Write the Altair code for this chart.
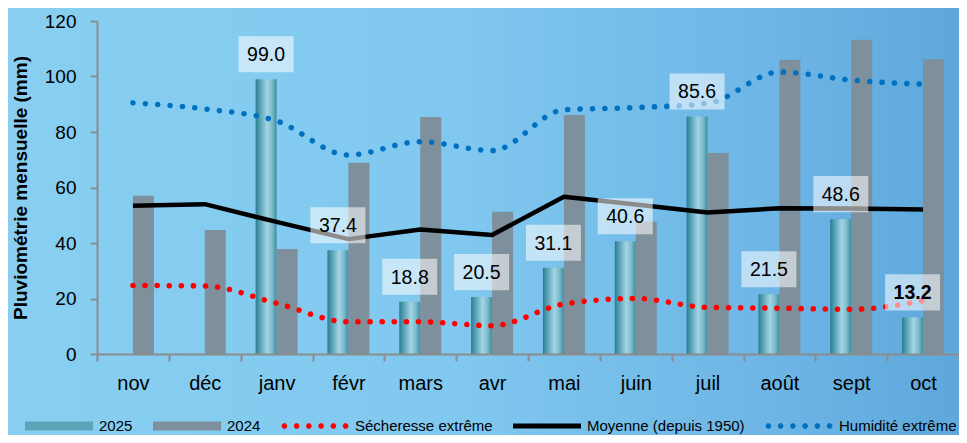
import altair as alt
import pandas as pd
import numpy as np

# ---------------- data ----------------
months = ["nov", "déc", "janv", "févr", "mars", "avr", "mai", "juin", "juil", "août", "sept", "oct"]
pluie_2025 = [None, None, 99.0, 37.4, 18.8, 20.5, 31.1, 40.6, 85.6, 21.5, 48.6, 13.2]
pluie_2024 = [57.0, 44.7, 37.8, 68.9, 85.4, 51.3, 86.1, 47.7, 72.4, 106.0, 113.2, 106.2]
secheresse = [24.7, 24.5, 18.3, 11.6, 11.6, 10.2, 18.0, 20.0, 16.8, 16.5, 16.1, 19.2]
moyenne = [53.4, 54.0, 47.6, 41.4, 44.9, 42.9, 56.7, 53.9, 51.0, 52.5, 52.4, 52.1]
humidite = [90.5, 88.3, 84.0, 71.7, 76.5, 73.3, 88.0, 88.8, 90.3, 101.6, 98.7, 97.2]
series = ["2025", "2024", "Sécheresse extrême", "Moyenne (depuis 1950)", "Humidité extrême"]
y_ticks = [0, 20, 40, 60, 80, 100, 120]

# ---------------- tables ----------------
rows = []
for m, a, b in zip(months, pluie_2025, pluie_2024):
    if a is not None:
        rows.append({"mois": m, "s": "2025", "val": a})
    rows.append({"mois": m, "s": "2024", "val": b})
bars_df = pd.DataFrame(rows)
lab_df = bars_df[bars_df["s"] == "2025"].reset_index(drop=True)

lrows = []
for name, vals in [("Sécheresse extrême", secheresse), ("Moyenne (depuis 1950)", moyenne), ("Humidité extrême", humidite)]:
    for m, v in zip(months, vals):
        lrows.append({"mois": m, "s": name, "val": v})
lines_df = pd.DataFrame(lrows)

# ---------------- styles ----------------
FONT = "Liberation Sans, Arial, sans-serif"
W, H = 862, 333
AX = "#8c8c8c"

bar_grad = {
    "gradient": "linear", "x1": 0, "x2": 1, "y1": 0, "y2": 0,
    "stops": [
        {"offset": 0.0, "color": "#2a7a8d"},
        {"offset": 0.18, "color": "#4f9db1"},
        {"offset": 0.55, "color": "#a3d5e3"},
        {"offset": 0.8, "color": "#78b9ca"},
        {"offset": 1.0, "color": "#3d8a9e"},
    ],
}
bg_grad = {
    "gradient": "linear", "x1": 0, "x2": 1, "y1": 0, "y2": 0,
    "stops": [
        {"offset": 0.0, "color": "#88cff1"},
        {"offset": 0.45, "color": "#80c8ef"},
        {"offset": 0.75, "color": "#6db6e6"},
        {"offset": 1.0, "color": "#5aa3d9"},
    ],
}


def rect_path(h):
    return f"M-1,{-h}L1,{-h}L1,{h}L-1,{h}Z"


def dots_path(n=6, r=0.085):
    parts = []
    for i in range(n):
        cx = -0.9 + i * 0.36
        angs = np.linspace(0, 2 * np.pi, 9)[:-1] + np.pi / 8
        pts = [(cx + r * np.cos(a), r * np.sin(a)) for a in angs]
        parts.append("M" + "L".join(f"{x:.3f},{y:.3f}" for x, y in pts) + "Z")
    return "".join(parts)


legend_shapes = [rect_path(0.13), rect_path(0.13), dots_path(), rect_path(0.075), dots_path()]
legend_colors = ["#5aa5b8", "#7e909b", "#ff0000", "#000000", "#0070c0"]

x_enc = alt.X(
    "mois:N", sort=months,
    scale=alt.Scale(domain=months, paddingInner=0, paddingOuter=0),
    axis=alt.Axis(title=None, labelAngle=0, tickBand="extent", labelFont=FONT, labelFontSize=20,
                  labelColor="black", labelPadding=12, tickSize=7, tickWidth=2, tickColor=AX,
                  domainColor=AX, domainWidth=2, grid=False, zindex=1),
)
y_enc = alt.Y(
    "val:Q", scale=alt.Scale(domain=[0, 120], nice=False, zero=True),
    axis=alt.Axis(values=y_ticks, title="Pluviométrie mensuelle (mm)", titleFont=FONT,
                  titleFontSize=19, titleFontWeight="bold", titleColor="black", titlePadding=14,
                  labelFont=FONT, labelFontSize=19, labelColor="black", labelPadding=14,
                  tickSize=7, tickWidth=2, tickColor=AX, domainColor=AX, domainWidth=2, grid=False,
                  zindex=1),
)
xoff = alt.XOffset("s:N", scale=alt.Scale(domain=["2025", "2024"], paddingOuter=0.71, paddingInner=0))

# ---------------- layers ----------------
bg = alt.Chart(pd.DataFrame({"k": [0]})).mark_rect(fill=bg_grad, clip=False).encode(
    x=alt.value(-100), x2=alt.value(W + 60), y=alt.value(-40), y2=alt.value(H + 120)
)

bars = alt.Chart(bars_df).mark_bar().encode(
    x=x_enc, y=y_enc, xOffset=xoff,
    fill=alt.condition("datum.s == '2025'", alt.value(bar_grad), alt.value("#7e909b")),
)

sech = alt.Chart(lines_df).transform_filter("datum.s == 'Sécheresse extrême'").mark_line(
    color="#ff0000", strokeWidth=5.5, strokeDash=[0.1, 12], strokeCap="round", interpolate="monotone"
).encode(x=x_enc, y=y_enc)

moy = alt.Chart(lines_df).transform_filter("datum.s == 'Moyenne (depuis 1950)'").mark_line(
    color="#000000", strokeWidth=4.5, interpolate="linear", strokeJoin="round"
).encode(x=x_enc, y=y_enc)

hum = alt.Chart(lines_df).transform_filter("datum.s == 'Humidité extrême'").mark_line(
    color="#0070c0", strokeWidth=5.5, strokeDash=[0.1, 12.3], strokeCap="round", interpolate="monotone"
).encode(x=x_enc, y=y_enc)

leg = alt.Legend(
    title=None, orient="none", legendX=-72, legendY=371, direction="horizontal", columns=5,
    labelFont=FONT, labelFontSize=15, labelColor="black", labelOffset=6, labelLimit=400,
    symbolSize=4624, symbolStrokeWidth=0, symbolOpacity=1, columnPadding=20, padding=0, zindex=2,
)
legend_layer = alt.Chart(lines_df).mark_point(filled=True, opacity=0).encode(
    x=x_enc, y=y_enc,
    color=alt.Color("s:N", scale=alt.Scale(domain=series, range=legend_colors), legend=leg),
    shape=alt.Shape("s:N", scale=alt.Scale(domain=series, range=legend_shapes), legend=leg),
)

boxes = alt.Chart(lab_df).mark_point(
    shape="M-1,-0.655L1,-0.655L1,0.655L-1,0.655Z", size=3025, filled=True,
    fill="white", opacity=0.55, strokeWidth=0, yOffset=-25,
).encode(x=x_enc, y=y_enc, xOffset=xoff)

texts = alt.Chart(lab_df).transform_filter("datum.mois != 'oct'").mark_text(
    font=FONT, fontSize=19.5, color="black", baseline="middle", align="center", dy=-24
).encode(x=x_enc, y=y_enc, xOffset=xoff, text=alt.Text("val:Q", format=".1f"))

texts_bold = alt.Chart(lab_df).transform_filter("datum.mois == 'oct'").mark_text(
    font=FONT, fontSize=19.5, fontWeight="bold", color="black", baseline="middle", align="center", dy=-24
).encode(x=x_enc, y=y_enc, xOffset=xoff, text=alt.Text("val:Q", format=".1f"))

chart = alt.layer(bg, bars, sech, moy, hum, legend_layer, boxes, texts, texts_bold).properties(
    width=W, height=H,
    autosize=alt.AutoSizeParams(type="none"),
    padding={"left": 89, "top": 13, "right": 0, "bottom": 81},
    background="#7fc4ec",
).configure_view(stroke=None)

chart.save("out.html", embed_options={"renderer": "svg", "actions": False})
